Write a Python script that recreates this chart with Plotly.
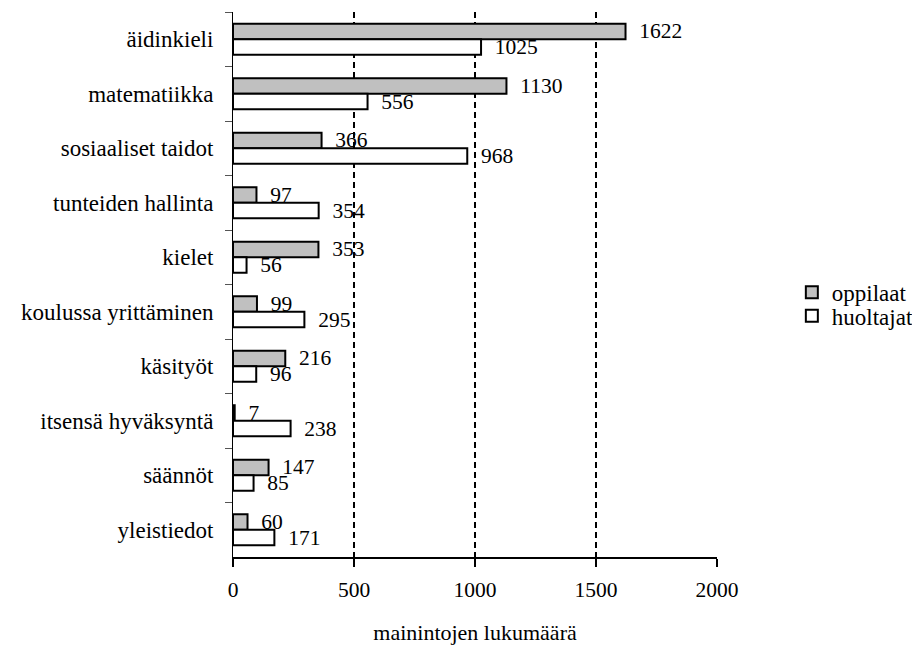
import plotly.graph_objects as go

categories = ["äidinkieli", "matematiikka", "sosiaaliset taidot", "tunteiden hallinta",
              "kielet", "koulussa yrittäminen", "käsityöt", "itsensä hyväksyntä",
              "säännöt", "yleistiedot"]
oppilaat = [1622, 1130, 366, 97, 353, 99, 216, 7, 147, 60]
huoltajat = [1025, 556, 968, 354, 56, 295, 96, 238, 85, 171]
x_ticks = [0, 500, 1000, 1500, 2000]
x_title = "mainintojen lukumäärä"

FONT = "Liberation Serif"
fs_num = 21.5
fs_word = 23

fig = go.Figure()
fig.add_trace(go.Bar(
    name="oppilaat", y=categories, x=oppilaat, orientation="h",
    marker=dict(color="#c0c0c0", line=dict(color="black", width=2)),
    text=oppilaat, texttemplate="\u00a0\u00a0%{x}", textposition="outside",
    constraintext="none", legend="legend",
    textfont=dict(family=FONT, size=fs_num, color="black"), cliponaxis=False,
))
fig.add_trace(go.Bar(
    name="huoltajat", y=categories, x=huoltajat, orientation="h",
    marker=dict(color="white", line=dict(color="black", width=2)),
    text=huoltajat, texttemplate="\u00a0\u00a0%{x}", textposition="outside",
    constraintext="none", legend="legend2",
    textfont=dict(family=FONT, size=fs_num, color="black"), cliponaxis=False,
))

leg_common = dict(xref="container", yref="container", x=0.852,
                  xanchor="left", yanchor="top",
                  font=dict(family=FONT, size=23), itemwidth=30,
                  bgcolor="rgba(0,0,0,0)")

fig.update_layout(
    width=920, height=646,
    margin=dict(l=225, r=211, t=4, b=97),
    paper_bgcolor="white", plot_bgcolor="white",
    barmode="group", bargap=0.43, bargroupgap=0,
    font=dict(family=FONT, size=fs_word, color="black"),
    showlegend=True,
    legend=dict(y=0.593, **leg_common),
    legend2=dict(y=0.557, **leg_common),
    xaxis=dict(range=[0, 2000], tickvals=x_ticks, ticktext=[str(v) for v in x_ticks],
               showgrid=True, gridcolor="black", gridwidth=2, griddash="6px,4px",
               zeroline=False, showline=True, linecolor="black", linewidth=2,
               ticks="outside", ticklen=8, tickwidth=2, tickcolor="black",
               ticklabelstandoff=4,
               title=dict(text=x_title, standoff=24, font=dict(family=FONT, size=22)),
               tickfont=dict(family=FONT, size=fs_num)),
    yaxis=dict(autorange="reversed", categoryorder="array", categoryarray=categories,
               showline=True, linecolor="black", linewidth=1, showgrid=False,
               ticks="outside", tickson="boundaries", ticklen=7, tickcolor="#555",
               ticklabelstandoff=14,
               tickfont=dict(family=FONT, size=fs_word)),
)
fig.write_html("out.html")
